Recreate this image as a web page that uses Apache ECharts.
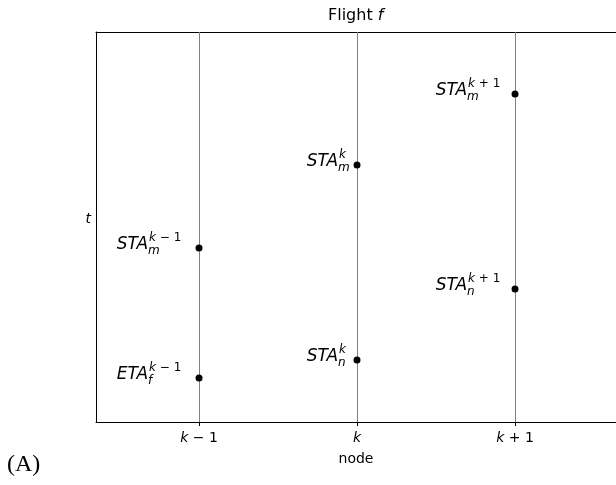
<!DOCTYPE html>
<html>
<head>
<meta charset="utf-8">
<script src="https://cdn.jsdelivr.net/npm/echarts@6/dist/echarts.min.js"></script>
<style>html,body{margin:0;padding:0;background:#fff}#c{width:616px;height:485px}</style>
</head>
<body>
<div id="c"></div>
<script>
// ---- data ----
const nodes = [-1, 0, 1];
const nodeTickLabels = ['{i|k}{n| \u2212 1}', '{i|k}', '{i|k}{n| + 1}'];
const pointNodes = [-1, -1, 0, 0, 1, 1];
const pointTimes = [4.46, 1.13, 6.59, 1.59, 8.41, 3.41];
const pointBase = ['STA', 'ETA', 'STA', 'STA', 'STA', 'STA'];
const pointSub = ['m', 'f', 'm', 'n', 'm', 'n'];
const pointSup = ['{i|k}{n| \u2212 1}', '{i|k}{n| \u2212 1}', '{i|k}', '{i|k}', '{i|k}{n| + 1}', '{i|k}{n| + 1}'];

// ---- layout / style ----
const FONT = '"DejaVu Sans", sans-serif';
const mainEndOffset = { '-1': 51, '0': 19, '1': 48 };
const supRich = {
  i: { fontStyle: 'italic', fontSize: 12, fontFamily: FONT, fill: '#000', color: '#000' },
  n: { fontSize: 12, fontFamily: FONT, fill: '#000', color: '#000' }
};
const AXIS_LINE = { show: true, onZero: false, lineStyle: { color: '#000', width: 1 } };

const chart = echarts.init(document.getElementById('c'), null, { renderer: 'canvas' });

chart.setOption({
  animation: false,
  backgroundColor: '#fff',
  title: {
    text: 'Flight {i|f}',
    left: 328,
    top: 8,
    padding: 0,
    textStyle: {
      fontSize: 16, fontWeight: 'normal', color: '#000', fontFamily: FONT,
      rich: { i: { fontStyle: 'italic', fontSize: 16, color: '#000', fontFamily: FONT } }
    }
  },
  grid: {
    left: 96, top: 32, right: 0, bottom: 63,
    show: false, containLabel: false
  },
  xAxis: [{
    type: 'value', min: -1.652, max: 1.639, position: 'bottom',
    name: 'node', nameLocation: 'middle', nameGap: 30,
    nameTextStyle: { fontSize: 14, color: '#000', fontFamily: FONT },
    axisLine: AXIS_LINE,
    splitLine: { show: false },
    axisTick: { show: true, customValues: nodes, length: 4, lineStyle: { color: '#000', width: 1 } },
    axisLabel: {
      show: true, customValues: nodes, margin: 9,
      formatter: function (v) { return nodeTickLabels[nodes.indexOf(Math.round(v))] || ''; },
      color: '#000', fontSize: 14, fontFamily: FONT,
      rich: {
        i: { fontStyle: 'italic', fontSize: 14, color: '#000', fontFamily: FONT },
        n: { fontSize: 14, color: '#000', fontFamily: FONT }
      }
    }
  }, {
    type: 'value', min: -1.652, max: 1.639, position: 'top',
    axisLine: AXIS_LINE, axisTick: { show: false }, axisLabel: { show: false }, splitLine: { show: false }
  }],
  yAxis: {
    type: 'value', min: 0, max: 10,
    name: 't', nameLocation: 'middle', nameGap: 5, nameRotate: 0,
    nameTextStyle: { fontSize: 14, fontStyle: 'italic', color: '#000', fontFamily: FONT, verticalAlign: 'bottom', padding: [0, 0, 1, 0] },
    axisLine: AXIS_LINE, axisTick: { show: false }, axisLabel: { show: false }, splitLine: { show: false }
  },
  graphic: [{
    type: 'text', left: 7, top: 453,
    style: { text: '(A)', fontSize: 24, fontFamily: '"Liberation Serif", serif', fill: '#000' }
  }],
  series: [
    {
      type: 'line', data: [], silent: true,
      markLine: {
        silent: true, symbol: ['none', 'none'], animation: false,
        label: { show: false },
        lineStyle: { type: 'solid', color: '#808080', width: 1 },
        data: nodes.map(function (n) { return { xAxis: n }; })
      }
    },
    {
      type: 'custom', z: 5,
      data: pointNodes.map(function (n, i) { return [n, pointTimes[i]]; }),
      renderItem: function (params, api) {
        const i = params.dataIndex;
        const xv = api.value(0);
        const p = api.coord([xv, api.value(1)]);
        const ex = p[0] - mainEndOffset[String(xv)];
        return {
          type: 'group',
          children: [
            { type: 'circle', shape: { cx: p[0], cy: p[1], r: 3.5 }, style: { fill: '#000' } },
            { type: 'text', x: ex, y: p[1] - 3.5,
              style: { text: pointBase[i], fontSize: 17, fontStyle: 'italic', fontFamily: FONT, fill: '#000', align: 'right', verticalAlign: 'middle' } },
            { type: 'text', x: ex + 1, y: p[1] - 10,
              style: { text: pointSup[i], rich: supRich, fontSize: 12, fontFamily: FONT, fill: '#000', align: 'left', verticalAlign: 'middle' } },
            { type: 'text', x: ex, y: p[1] + 2.5,
              style: { text: pointSub[i], fontSize: 12, fontStyle: 'italic', fontFamily: FONT, fill: '#000', align: 'left', verticalAlign: 'middle' } }
          ]
        };
      }
    }
  ]
});
</script>
</body>
</html>
